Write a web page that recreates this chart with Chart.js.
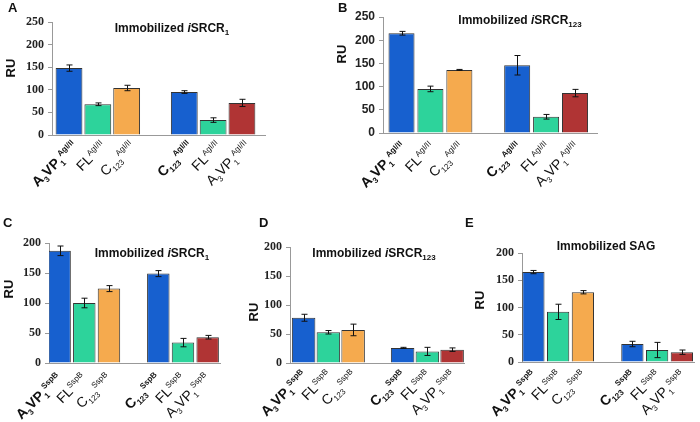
<!DOCTYPE html>
<html>
<head>
<meta charset="utf-8">
<script src="https://cdn.jsdelivr.net/npm/chart.js@4.4.0/dist/chart.umd.min.js"></script>
<style>
  body { margin: 0; background: #fff; }
  #wrap { position: relative; width: 700px; height: 422px; }
  #wrap canvas { position: absolute; left: 0; top: 0; }
</style>
</head>
<body>
<div id="wrap"></div>
<script>
// slot of each bar on the x axis (slot 3 is the gap between the two groups)
const xSlots = [0, 1, 2, 4, 5, 6];
const ligands = ['A3VP1', 'FL', 'C123', 'C123', 'FL', 'A3VP1'];
const boldLabel = [true, false, false, true, false, false];
const barColors = ['#1760cf', '#2dd39b', '#f5aa4e', '#1760cf', '#2dd39b', '#b03434'];

// RU values and error bars
const valuesA = [148, 68, 104, 95, 33, 71];
const errorsA = [7, 3, 6, 3, 5, 8];
const valuesB = [215, 95, 136, 146, 35, 86];
const errorsB = [4, 6, 1, 21, 5, 8];
const valuesC = [187, 100, 124, 149, 34, 43];
const errorsC = [8, 8, 5, 5, 7, 3];
const valuesD = [78, 53, 57, 26, 20, 23];
const errorsD = [6, 3, 10, 1, 7, 3];
const valuesE = [165, 92, 128, 33, 22, 18];
const errorsE = [3, 14, 3, 5, 14, 4];

const SANS = "'Liberation Sans', Arial, sans-serif";
const SERIF = "'Liberation Serif', 'Times New Roman', serif";

function titleRuns(target, sub) {
  if (!sub) return [{ t: 'Immobilized ' + target }];
  return [{ t: 'Immobilized ' }, { t: 'i', i: true }, { t: target }, { t: sub, s: 'sub' }];
}

// placement of each panel on the 700x422 page
const panels = [
  { letter: 'A', tag: 'AgI/II', values: valuesA, errors: errorsA, yMax: 250, tickFont: SERIF,
    title: titleRuns('SRCR', '1'), area: { l: 52, r: 265, t: 22, b: 135 }, xMin: -0.59, xMax: 6.8, barPct: 0.93,
    labelOff: [9, 12], letterXY: [8, 12], ruXY: [10, 68], titleXY: [172, 32] },
  { letter: 'B', tag: 'AgI/II', values: valuesB, errors: errorsB, yMax: 250, tickFont: SANS,
    title: titleRuns('SRCR', '123'), area: { l: 383, r: 597, t: 17, b: 133 }, xMin: -0.64, xMax: 6.76, barPct: 0.9,
    labelOff: [5, 15], letterXY: [338, 12], ruXY: [341, 54], titleXY: [520, 24] },
  { letter: 'C', tag: 'SspB', values: valuesC, errors: errorsC, yMax: 200, tickFont: SERIF,
    title: titleRuns('SRCR', '1'), area: { l: 49, r: 220, t: 243, b: 363 }, xMin: -0.43, xMax: 6.5, barPct: 0.91,
    labelOff: [3, 16], letterXY: [3, 227], ruXY: [8, 289], titleXY: [152, 257] },
  { letter: 'D', tag: 'SspB', values: valuesD, errors: errorsD, yMax: 200, tickFont: SERIF,
    title: titleRuns('SRCR', '123'), area: { l: 290, r: 464, t: 247, b: 363 }, xMin: -0.55, xMax: 6.48, barPct: 0.95,
    labelOff: [4, 13], letterXY: [259, 227], ruXY: [253, 312], titleXY: [374, 257] },
  { letter: 'E', tag: 'SspB', values: valuesE, errors: errorsE, yMax: 200, tickFont: SERIF,
    title: titleRuns('SAG'), area: { l: 522, r: 694, t: 253, b: 362 }, xMin: -0.46, xMax: 6.49, barPct: 0.9,
    labelOff: [4, 14], letterXY: [465, 227], ruXY: [479, 300], titleXY: [606, 250] }
];

function labelRuns(name, tag) {
  const runs = name.match(/[A-Z]+|\d+/g).map(part => /\d/.test(part) ? { t: part, s: 'sub' } : { t: part });
  runs.push({ t: tag, s: 'sup' });
  return runs;
}

function runFont(r, size, bold, small) {
  const sz = r.s ? Math.round(size * small) : size;
  return (r.i ? 'italic ' : '') + (bold ? 'bold ' : '') + sz + 'px ' + SANS;
}

// draws a line of text with sub/superscripts, right/center/left aligned at (x, y)
function drawRich(ctx, runs, x, y, size, bold, angle, align, small) {
  small = small || 0.65;
  ctx.save();
  ctx.translate(x, y);
  ctx.rotate(angle);
  ctx.textBaseline = 'alphabetic';
  ctx.textAlign = 'left';
  const widths = runs.map(r => { ctx.font = runFont(r, size, bold, small); return ctx.measureText(r.t).width; });
  const total = widths.reduce((a, b) => a + b, 0);
  let cx = align === 'right' ? -total : align === 'center' ? -total / 2 : 0;
  runs.forEach((r, i) => {
    ctx.font = runFont(r, size, bold, small);
    const dy = r.s === 'sub' ? size * 0.25 : r.s === 'sup' ? -size * 0.4 : 0;
    ctx.fillText(r.t, cx, dy);
    cx += widths[i];
  });
  ctx.restore();
}

function decorate(chart, p) {
  const ctx = chart.ctx;
  const xs = chart.scales.x, ys = chart.scales.y;
  ctx.save();
  ctx.fillStyle = '#111';
  ctx.strokeStyle = '#111';
  ctx.lineWidth = 1;

  // error bars
  p.values.forEach((v, i) => {
    const x = Math.round(xs.getPixelForValue(xSlots[i])) + 0.5;
    const y1 = ys.getPixelForValue(v + p.errors[i]);
    const y2 = ys.getPixelForValue(v - p.errors[i]);
    ctx.beginPath();
    ctx.moveTo(x, y1); ctx.lineTo(x, y2);
    ctx.moveTo(x - 3, y1); ctx.lineTo(x + 3, y1);
    ctx.moveTo(x - 3, y2); ctx.lineTo(x + 3, y2);
    ctx.stroke();
  });

  // rotated category labels
  ligands.forEach((name, i) => {
    const x = xs.getPixelForValue(xSlots[i]) + p.labelOff[0];
    const y = ys.getPixelForValue(0) + p.labelOff[1];
    drawRich(ctx, labelRuns(name, p.tag), x, y, 14, boldLabel[i], -Math.PI / 4, 'right', 0.56);
  });

  drawRich(ctx, p.title, p.titleXY[0], p.titleXY[1], 12, true, 0, 'center');
  drawRich(ctx, [{ t: p.letter }], p.letterXY[0], p.letterXY[1], 13, true, 0, 'left');
  drawRich(ctx, [{ t: 'RU' }], p.ruXY[0] + 5, p.ruXY[1], 13, true, -Math.PI / 2, 'center');
  ctx.restore();
}

const wrap = document.getElementById('wrap');
panels.forEach(p => {
  const canvas = document.createElement('canvas');
  canvas.width = 700;
  canvas.height = 422;
  canvas.style.width = '700px';
  canvas.style.height = '422px';
  wrap.appendChild(canvas);

  new Chart(canvas, {
    type: 'bar',
    data: {
      datasets: [{
        data: xSlots.map((x, i) => ({ x: x, y: p.values[i] })),
        backgroundColor: barColors,
        borderColor: '#333',
        borderWidth: 1,
        barPercentage: p.barPct,
        categoryPercentage: 1
      }]
    },
    options: {
      responsive: false,
      animation: false,
      devicePixelRatio: 1,
      layout: { padding: { top: p.area.t, right: 700 - p.area.r, bottom: 0, left: 0 } },
      plugins: { legend: { display: false }, tooltip: { enabled: false } },
      scales: {
        x: {
          type: 'linear', min: p.xMin, max: p.xMax, offset: false,
          ticks: { display: false },
          grid: { display: false },
          border: { color: '#999' },
          afterFit: s => { s.height = 422 - p.area.b; }
        },
        y: {
          min: 0, max: p.yMax,
          ticks: { stepSize: 50, color: '#222', padding: 4, font: { family: p.tickFont, size: 12, weight: 'bold' } },
          grid: { drawOnChartArea: false, tickLength: 4, color: '#999' },
          border: { color: '#999' },
          afterFit: s => { s.width = p.area.l; }
        }
      }
    },
    plugins: [{ id: 'decor', afterDraw: chart => decorate(chart, p) }]
  });
});
</script>
</body>
</html>
